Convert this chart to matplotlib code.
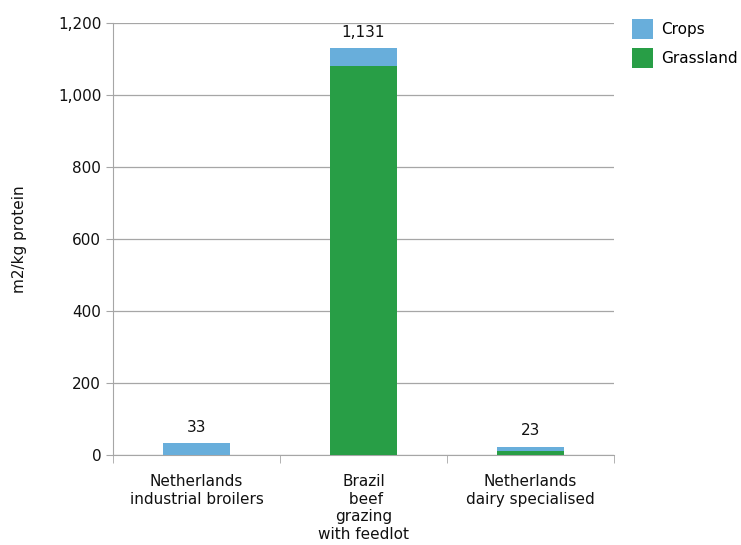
import numpy as np
import matplotlib.pyplot as plt

# land use per kg protein
categories = ['Netherlands\nindustrial broilers', 'Brazil\n beef\ngrazing\nwith feedlot',
              'Netherlands\ndairy specialised']
grassland = [0, 1081, 10]
crops = [33, 50, 13]
totals = ['33', '1,131', '23']

blue = '#68aedb'
green = '#289e46'
grey = '#a6a6a6'

fig = plt.figure(figsize=(7.41, 5.45), dpi=100)
ax = fig.add_axes([0.1525, 0.1651, 0.6761, 0.7927])

x = np.arange(len(categories))
ax.bar(x, grassland, width=0.4, color=green, label='Grassland', zorder=3)
ax.bar(x, crops, width=0.4, bottom=grassland, color=blue, label='Crops', zorder=3)

for xi, g, c, t in zip(x, grassland, crops, totals):
    ax.annotate(t, (xi, g + c), xytext=(0, 6), textcoords='offset points',
                ha='center', va='bottom', fontsize=11, color='#111111')

ax.set_xlim(-0.5, 2.5)
ax.set_ylim(0, 1200)
ax.set_yticks(np.arange(0, 1201, 200))
ax.set_yticklabels([f'{v:,}' for v in range(0, 1201, 200)])
ax.set_xticks(x)
ax.set_xticklabels(categories, fontsize=11, color='#111111')
ax.set_xticks([-0.5, 0.5, 1.5, 2.5], minor=True)
ax.tick_params(axis='x', which='major', length=0, pad=14)
ax.tick_params(axis='x', which='minor', length=6, color=grey)
ax.tick_params(axis='y', length=5, color=grey, labelsize=11, labelcolor='#111111')

ax.grid(axis='y', color=grey, linewidth=0.9, zorder=0)
for s in ['top', 'right']:
    ax.spines[s].set_visible(False)
for s in ['left', 'bottom']:
    ax.spines[s].set_color(grey)

ax.set_ylabel('m2/kg protein', fontsize=11, color='#111111', labelpad=22)

h, l = ax.get_legend_handles_labels()
fig.legend(h[::-1], l[::-1], loc='upper left', bbox_to_anchor=(0.835, 0.99),
           frameon=False, fontsize=11, handlelength=1.35, handleheight=1.6,
           handletextpad=0.5, labelspacing=0.6)

fig.savefig('out.png', dpi=100)
